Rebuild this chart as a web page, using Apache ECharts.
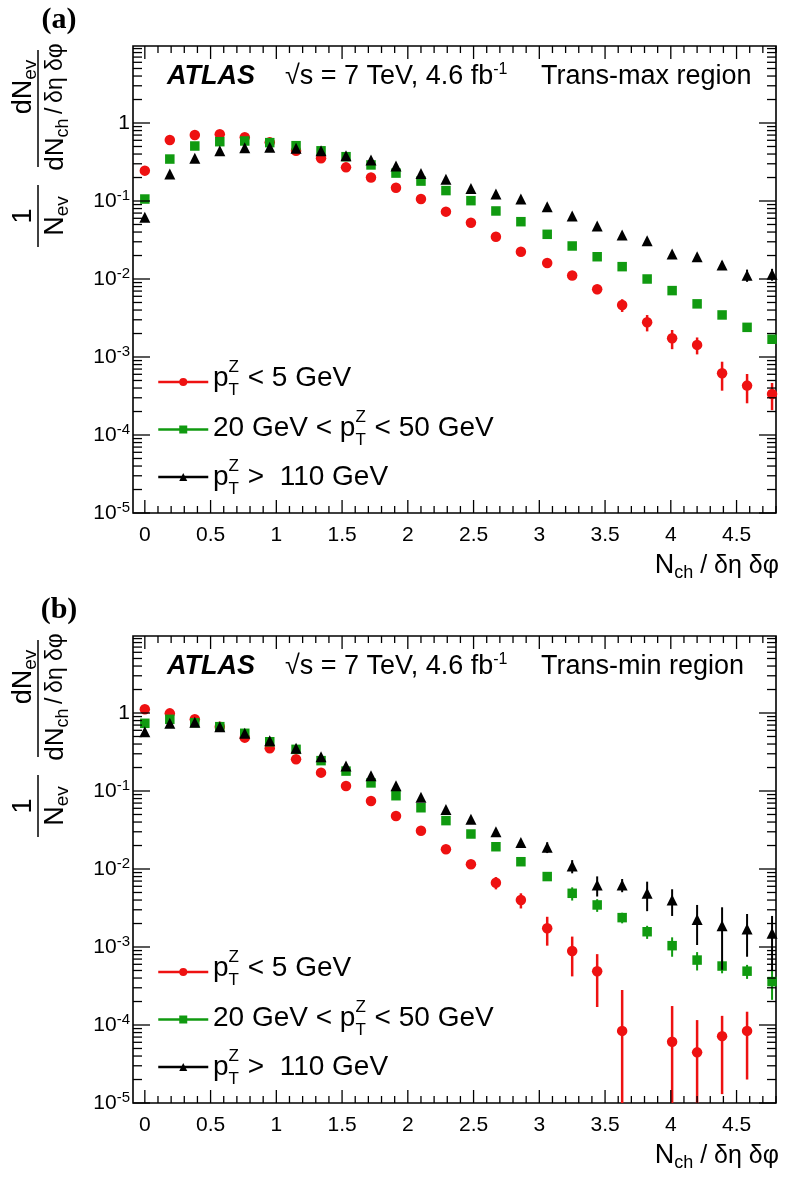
<!DOCTYPE html>
<html><head><meta charset="utf-8">
<script src="https://cdn.jsdelivr.net/npm/echarts@6/dist/echarts.min.js"></script>
<style>html,body{margin:0;padding:0;background:#fff}#c{width:786px;height:1181px}</style>
</head><body><div id="c"></div>
<script>
// ---------------- data ----------------
const X = [0,0.19,0.38,0.57,0.76,0.95,1.15,1.34,1.53,1.72,1.91,2.10,2.29,2.48,2.67,2.86,3.06,3.25,3.44,3.63,3.82,4.01,4.20,4.39,4.58,4.77];

// Panel (a): Trans-max region
const aRed      = [0.245,0.605,0.70,0.716,0.655,0.565,0.44,0.352,0.27,0.20,0.148,0.106,0.073,0.0527,0.0348,0.0224,0.016,0.0111,0.0074,0.00464,0.00279,0.00174,0.00143,0.00062,0.00043,0.000336];
const aRedErr   = [0,0,0,0,0,0,0,0,0,0,0,0,0,0,0,0.0005,0.0007,0.0011,0.001,0.00086,0.00066,0.00048,0.00035,0.00025,0.000175,0.000128];
const aGreen    = [0.106,0.345,0.507,0.576,0.588,0.56,0.512,0.44,0.37,0.29,0.228,0.18,0.136,0.101,0.0745,0.0543,0.0374,0.0265,0.0193,0.0144,0.0100,0.0071,0.0048,0.00346,0.0024,0.00169];
const aGreenErr = [0,0,0,0,0,0,0,0,0,0,0,0,0,0,0,0,0,0,0,0,0.0006,0.0005,0.0004,0.0003,0.00025,0.0002];
const aBlack    = [0.062,0.222,0.352,0.44,0.483,0.49,0.474,0.44,0.381,0.336,0.28,0.226,0.19,0.145,0.123,0.106,0.0845,0.0642,0.0478,0.0367,0.031,0.0209,0.0193,0.0151,0.0112,0.0115];
const aBlackErr = [0,0,0,0,0,0,0,0,0,0,0,0,0,0,0,0,0,0.002,0.0015,0.0015,0.0015,0.0015,0.0015,0.0018,0.002,0.002];

// Panel (b): Trans-min region
const bRed      = [1.115,0.99,0.83,0.668,0.483,0.352,0.255,0.172,0.116,0.0745,0.0478,0.031,0.0179,0.0115,0.00668,0.0040,0.00174,0.00089,0.00049,0.000084,null,0.000061,0.0000446,0.000072,0.000084,null];
const bRedErr   = [0,0,0,0,0,0,0,0,0,0,0,0,0.0008,0.0008,0.0012,0.00088,0.0007,0.00047,0.00032,0.000197,0,0.000114,0.000071,0.000059,0.000064,0];
const bGreen    = [0.738,0.83,0.75,0.668,0.549,0.428,0.342,0.245,0.18,0.127,0.087,0.061,0.0417,0.0281,0.0193,0.0124,0.008,0.00488,0.00346,0.00238,0.00157,0.00104,0.00068,0.00057,0.00049,0.00036];
const bGreenErr = [0,0,0,0,0,0,0,0,0,0,0,0,0,0,0,0.0007,0.0008,0.00094,0.00064,0.00037,0.0003,0.00029,0.00018,0.00011,0.0001,0.00015];
const bBlack    = [0.576,0.738,0.76,0.668,0.549,0.44,0.352,0.275,0.209,0.157,0.117,0.083,0.058,0.0434,0.0301,0.0218,0.019,0.0109,0.00624,0.00624,0.00488,0.004,0.00226,0.00187,0.0017,0.0015];
const bBlackErr = [0,0,0,0,0,0,0,0,0,0,0,0,0,0,0,0.002,0.003,0.0021,0.0018,0.0012,0.002,0.0015,0.0012,0.00136,0.00095,0.001];

const X_LABELS = [0,0.5,1,1.5,2,2.5,3,3.5,4,4.5];
const Y_MAJOR = [1e-5,1e-4,1e-3,1e-2,1e-1,1];
const NAMES = ['low','mid','high'];
const COLORS = ['#ee1111','#109a10','#000000'];
const SYMBOLS = ['circle','rect','triangle'];
const SYMSIZE = [10.5,9.5,11];

// ---------------- layout ----------------
const FONT = 'Liberation Sans';
const XMIN = -0.09, XMAX = 4.8, YMIN = 1e-5, YMAX = Math.pow(10, 77/78);
const GRIDS = [{left:133, top:46, width:643, height:467}, {left:133, top:636, width:643, height:467}];

// minor ticks
const Y_MINOR = [];
Y_MAJOR.forEach(d => { for (let k = 2; k <= 9; k++) { const v = k*d; if (v < YMAX) Y_MINOR.push(v); } });
const X_MINOR = [];
for (let i = 1; i <= 48; i++) { if (i % 5 !== 0) X_MINOR.push(i/10); }
const tickData = [];
Y_MAJOR.forEach(v => tickData.push([XMIN, v, 17, 0]));
Y_MINOR.forEach(v => tickData.push([XMIN, v, 9, 0]));
X_LABELS.forEach(v => tickData.push([v, YMIN, 13, 1]));
X_MINOR.forEach(v => tickData.push([v, YMIN, 7, 1]));

function tickRender(params, api) {
  const a = api.value(0), b = api.value(1), L = api.value(2), k = api.value(3);
  const st = {stroke:'#000', lineWidth:1.3};
  if (k === 0) {
    const pl = api.coord([XMIN, b]), pr = api.coord([XMAX, b]);
    return {type:'group', children:[
      {type:'line', shape:{x1:pl[0], y1:pl[1], x2:pl[0]+L, y2:pl[1]}, style:st},
      {type:'line', shape:{x1:pr[0], y1:pr[1], x2:pr[0]-L, y2:pr[1]}, style:st}]};
  }
  const pb = api.coord([a, YMIN]), pt = api.coord([a, YMAX]);
  return {type:'group', children:[
    {type:'line', shape:{x1:pb[0], y1:pb[1], x2:pb[0], y2:pb[1]-L}, style:st},
    {type:'line', shape:{x1:pt[0], y1:pt[1], x2:pt[0], y2:pt[1]+L}, style:st}]};
}
function errRender(color, w) {
  return function (params, api) {
    const x = api.value(0), v = api.value(1), e = api.value(2);
    const lo = Math.max(v - e, YMIN), hi = Math.min(v + e, YMAX);
    const p1 = api.coord([x, hi]), p2 = api.coord([x, lo]);
    return {type:'line', shape:{x1:p1[0], y1:p1[1], x2:p2[0], y2:p2[1]}, style:{stroke:color, lineWidth:w}};
  };
}
function pairs(vals) { const out = []; vals.forEach((v,i) => { if (v != null) out.push([X[i], v]); }); return out; }
function errs(vals, e) { const out = []; vals.forEach((v,i) => { if (v != null && e[i] > 0) out.push([X[i], v, e[i]]); }); return out; }

const series = [];
const panels = [[aRed,aGreen,aBlack],[bRed,bGreen,bBlack]];
const panelErr = [[aRedErr,aGreenErr,aBlackErr],[bRedErr,bGreenErr,bBlackErr]];
[0,1].forEach(p => {
  series.push({type:'custom', xAxisIndex:p, yAxisIndex:p, data:tickData, renderItem:tickRender, silent:true, clip:false, z:10});
  [0,1,2].forEach(c => {
    series.push({type:'custom', xAxisIndex:p, yAxisIndex:p, data:errs(panels[p][c], panelErr[p][c]),
      renderItem:errRender(COLORS[c], c === 0 ? 2.5 : 2), silent:true, z:3+c});
    series.push({type:'line', name:NAMES[c], xAxisIndex:p, yAxisIndex:p, data:pairs(panels[p][c]),
      symbol:SYMBOLS[c], symbolSize:SYMSIZE[c], showAllSymbol:true, itemStyle:{color:COLORS[c]},
      lineStyle:{opacity:0, width:0}, z:3+c, silent:true});
  });
});

// ---------------- text helpers ----------------
const mctx = document.createElement('canvas').getContext('2d');
function tw(t, s, w, st, fam) { mctx.font = (st||'normal')+' '+(w||'normal')+' '+s+'px "'+(fam||FONT)+'"'; return mctx.measureText(t).width; }
function T(x, y, t, s, o) {
  o = o || {};
  return {type:'text', x:x, y:y, style:{text:t, fontSize:s, fontFamily:o.fam||FONT, fontWeight:o.w||'normal',
    fontStyle:o.st||'normal', fill:'#000', align:o.align||'left', verticalAlign:'middle'}};
}
function partW(p) { if (p.stack) return Math.max.apply(null, p.stack.map(q => tw(q.t, q.s))); return tw(p.t, p.s, p.w, p.st, p.fam); }
function seq(x, y, parts) {
  const out = []; let cx = x;
  parts.forEach(p => {
    if (p.stack) p.stack.forEach(q => out.push(T(cx, y + (q.dy||0), q.t, q.s)));
    else out.push(T(cx, y + (p.dy||0), p.t, p.s, p));
    cx += partW(p) + (p.gap||0);
  });
  return out;
}
function seqW(parts) { return parts.reduce((a,p) => a + partW(p) + (p.gap||0), 0); }
function seqC(cx, y, parts) { return seq(cx - seqW(parts)/2, y, parts); }
function ln(x1, y1, x2, y2, w) { return {type:'line', shape:{x1:x1,y1:y1,x2:x2,y2:y2}, style:{stroke:'#000', lineWidth:w||1.5}}; }

const PTZ = {stack:[{t:'Z', s:17, dy:-11},{t:'T', s:17, dy:12}], gap:1};
const graphics = [];
[0,1].forEach(p => {
  const off = p * 590;
  graphics.push(T(59, 20 + off, p === 0 ? '(a)' : '(b)', 30, {fam:'Liberation Serif', w:'bold', align:'center'}));
  // header
  graphics.push(T(167, 77 + off, 'ATLAS', 27, {w:'bold', st:'italic'}));
  graphics.push(...seq(285, 77 + off, [{t:'\u221As = 7 TeV, 4.6 fb', s:27},{t:'-1', s:16, dy:-7}]));
  graphics.push(T(541, 77 + off, p === 0 ? 'Trans-max region' : 'Trans-min region', 27));
  // legend texts
  graphics.push(...seq(213, 378 + off, [{t:'p', s:28}, PTZ, {t:' < 5 GeV', s:28}]));
  graphics.push(...seq(213, 428 + off, [{t:'20 GeV < p', s:28}, PTZ, {t:' < 50 GeV', s:28}]));
  graphics.push(...seq(213, 477 + off, [{t:'p', s:28}, PTZ, {t:' >  110 GeV', s:28}]));
  // x title
  const xt = [{t:'N', s:27},{t:'ch', s:18, dy:7},{t:' / \u03B4\u03B7 \u03B4\u03C6', s:25}];
  graphics.push(...seq(779 - seqW(xt), 566 + off, xt));
  // y title (rotated)
  const els = [];
  els.push(...seqC(31, -14, [{t:'1', s:27}]));
  els.push(...seqC(31, 18, [{t:'N', s:27},{t:'ev', s:19, dy:7}]));
  els.push(ln(0, 0, 62, 0));
  els.push(...seqC(160, -14, [{t:'dN', s:27},{t:'ev', s:19, dy:7}]));
  els.push(...seqC(140, 18, [{t:'dN', s:26},{t:'ch', s:18, dy:7},{t:'\u2009/\u2009\u03B4\u03B7 \u03B4\u03C6', s:23}]));
  els.push(ln(80, 0, 197, 0));
  graphics.push({type:'group', x:38, y:247 + off, rotation:Math.PI/2, children:els});
});

function yFmt(v) {
  const l = Math.log10(v), e = Math.round(l);
  if (Math.abs(l - e) > 1e-6) return '';
  return e === 0 ? '1' : '10{s|' + e + '}';
}

const option = {
  animation:false,
  backgroundColor:'#fff',
  grid: GRIDS.map(g => Object.assign({show:true, borderColor:'#000', borderWidth:1.6, backgroundColor:'transparent', containLabel:false}, g)),
  xAxis: [0,1].map(p => ({gridIndex:p, type:'value', min:XMIN, max:XMAX,
    axisLine:{show:false}, axisTick:{show:false}, splitLine:{show:false},
    axisLabel:{customValues:X_LABELS, formatter:v => String(v), fontSize:21, fontFamily:FONT, color:'#000', margin:12}})),
  yAxis: [0,1].map(p => ({gridIndex:p, type:'log', logBase:10, min:YMIN, max:YMAX, splitNumber:6,
    axisLine:{show:false}, axisTick:{show:false}, splitLine:{show:false}, minorTick:{show:false},
    axisLabel:{formatter:yFmt, fontSize:21, fontFamily:FONT, color:'#000', margin:3, lineHeight:26,
      rich:{s:{fontSize:15, fontFamily:FONT, color:'#000', verticalAlign:'top', lineHeight:15}}}})),
  legend: [0,1].map(p => ({orient:'vertical', left:152, top:373 + p*590, itemWidth:50, itemHeight:10, itemGap:39.5,
    data:NAMES, formatter:() => '', selectedMode:false, textStyle:{fontSize:8, lineHeight:10},
    lineStyle:{width:2.5, opacity:1}, itemStyle:{opacity:1}})),
  series: series,
  graphic: graphics
};
const chart = echarts.init(document.getElementById('c'), null, {renderer:'canvas'});
chart.setOption(option);
</script>
</body></html>
